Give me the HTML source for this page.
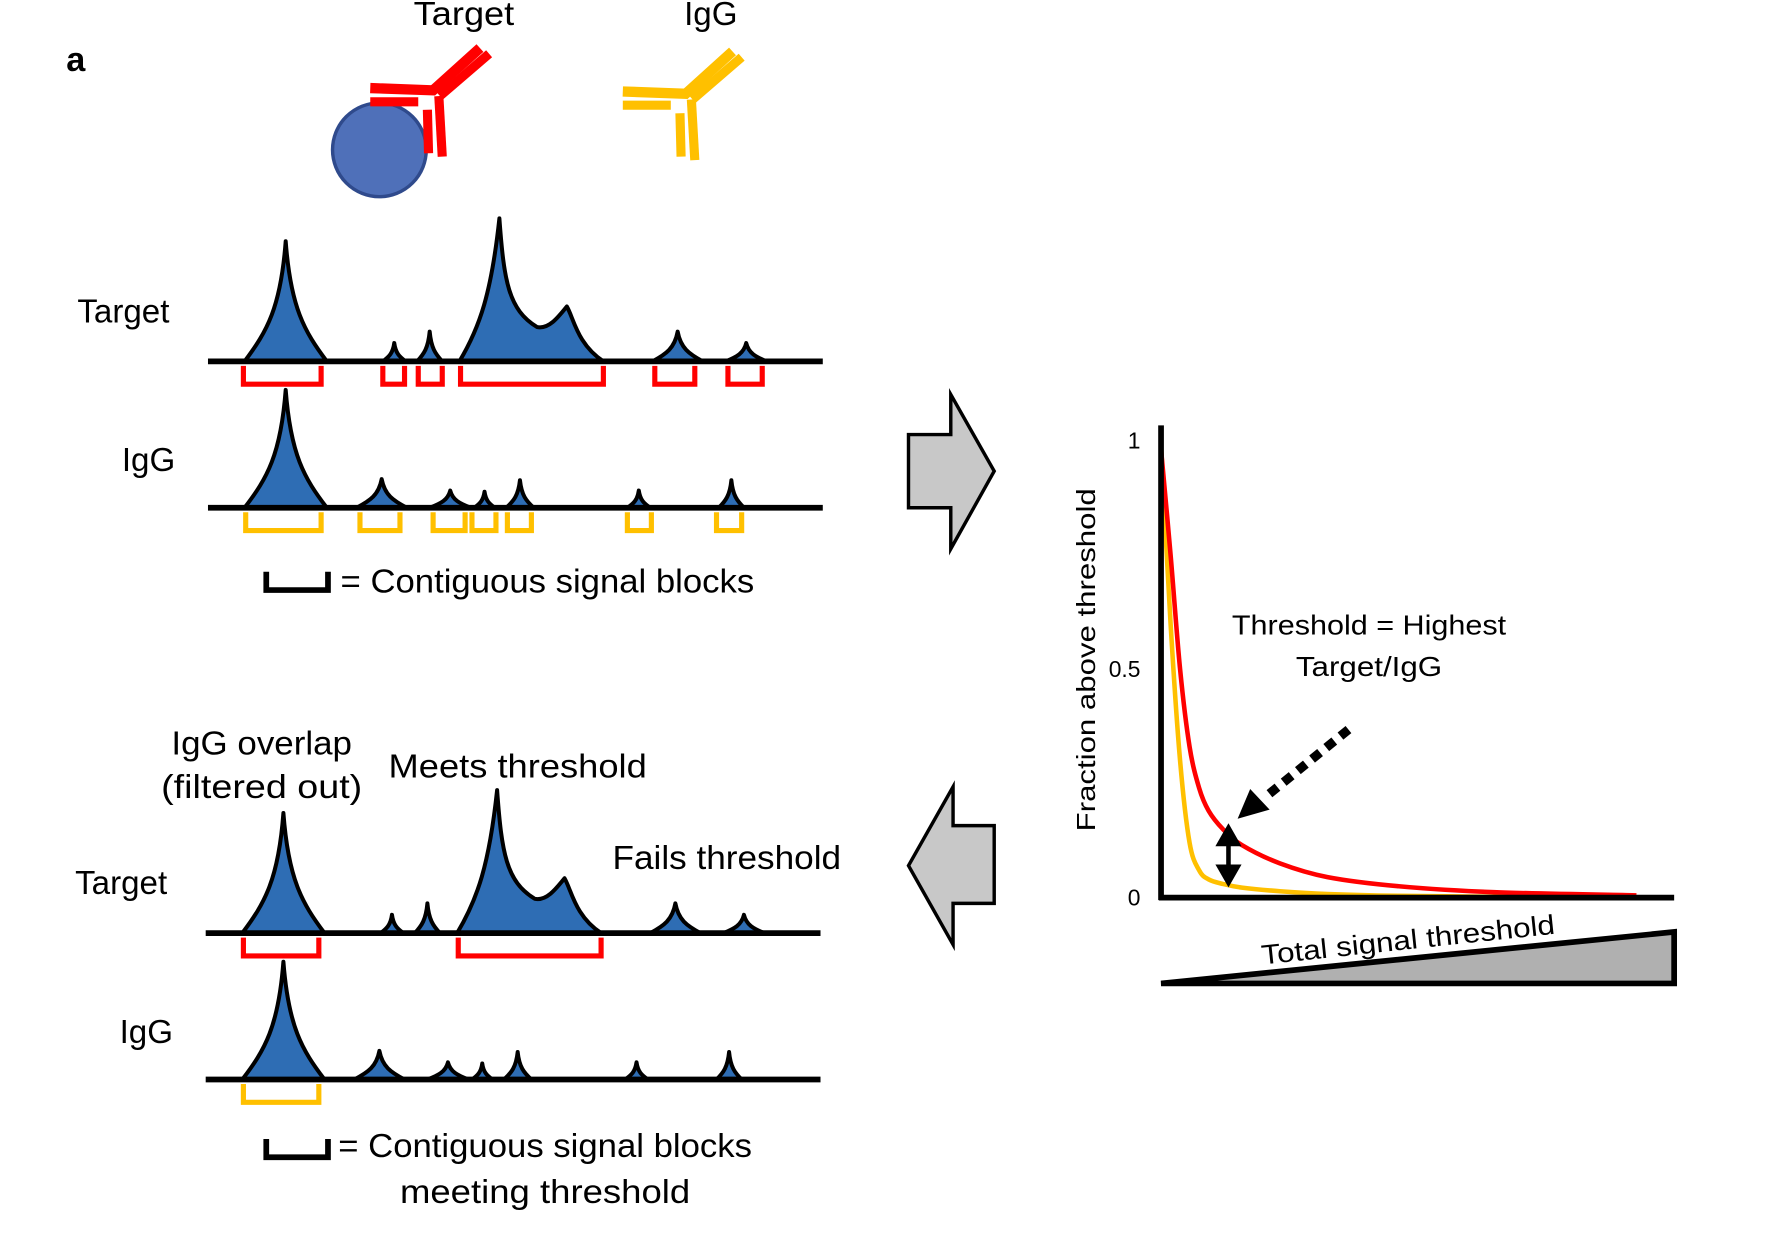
<!DOCTYPE html>
<html><head><meta charset="utf-8"><style>
html,body{margin:0;padding:0;background:#fff;}
svg{display:block;}
text{font-family:"Liberation Sans",sans-serif;fill:#000;}
</style></head><body>
<svg id="fig" width="1777" height="1235" viewBox="0 0 1555 1080" preserveAspectRatio="none" xmlns="http://www.w3.org/2000/svg">
<text x="58" y="62" font-size="30" font-weight="bold">a</text>
<text x="406" y="22" font-size="29" text-anchor="middle" textLength="88" lengthAdjust="spacingAndGlyphs">Target</text>
<text x="622" y="22" font-size="29" text-anchor="middle">IgG</text>
<circle cx="332" cy="131" r="41" fill="#4f70b9" stroke="#2f4a8c" stroke-width="3"/>
<g id="ab-red" stroke="#ff0000" fill="none">
<polyline points="324,77 379,79 420,42" stroke-width="9"/>
<line x1="385" y1="84" x2="428" y2="47" stroke-width="8"/>
<line x1="384" y1="84" x2="387" y2="137" stroke-width="8"/>
<line x1="374" y1="96" x2="375" y2="134" stroke-width="8"/>
<line x1="324" y1="89" x2="366" y2="89" stroke-width="8"/>
</g>
<g stroke="#ffc000" fill="none" transform="translate(221,3)">
<polyline points="324,77 379,79 420,42" stroke-width="9"/>
<line x1="385" y1="84" x2="428" y2="47" stroke-width="8"/>
<line x1="384" y1="84" x2="387" y2="137" stroke-width="8"/>
<line x1="374" y1="96" x2="375" y2="134" stroke-width="8"/>
<line x1="324" y1="89" x2="366" y2="89" stroke-width="8"/>
</g>
<g id="tracks"></g>
<text x="108" y="282" font-size="29" text-anchor="middle">Target</text>
<text x="130" y="412" font-size="29" text-anchor="middle">IgG</text>
<text x="106" y="782" font-size="29" text-anchor="middle">Target</text>
<text x="128" y="912" font-size="29" text-anchor="middle">IgG</text>
<path d="M233,500 V516 H287 V500" fill="none" stroke="#000" stroke-width="5"/>
<text x="298" y="518" font-size="29" textLength="362" lengthAdjust="spacingAndGlyphs">= Contiguous signal blocks</text>
<path d="M233,996 V1012 H287 V996" fill="none" stroke="#000" stroke-width="5"/>
<text x="296" y="1012" font-size="29" textLength="362" lengthAdjust="spacingAndGlyphs">= Contiguous signal blocks</text>
<text x="477" y="1052" font-size="29" text-anchor="middle" textLength="254" lengthAdjust="spacingAndGlyphs">meeting threshold</text>
<text x="229" y="660" font-size="29" text-anchor="middle" textLength="158" lengthAdjust="spacingAndGlyphs">IgG overlap</text>
<text x="229" y="698" font-size="29" text-anchor="middle" textLength="176" lengthAdjust="spacingAndGlyphs">(filtered out)</text>
<text x="453" y="680" font-size="29" text-anchor="middle" textLength="226" lengthAdjust="spacingAndGlyphs">Meets threshold</text>
<text x="636" y="760" font-size="29" text-anchor="middle" textLength="200" lengthAdjust="spacingAndGlyphs">Fails threshold</text>
<polygon points="795,380 832,380 832,345 870,412 832,480 832,444 795,444" fill="#c8c8c8" stroke="#000" stroke-width="3"/>
<polygon points="870,722 834,722 834,688 795,757 834,826 834,790 870,790" fill="#c8c8c8" stroke="#000" stroke-width="3"/>
<g id="chart"></g>
</svg>
<script>
// chart data
var thresholdX = [0, 2, 4, 6, 8, 10, 13, 17, 25, 35, 50, 70, 100];
var targetFrac = [0.98, 0.75, 0.5, 0.33, 0.24, 0.19, 0.15, 0.115, 0.075, 0.045, 0.025, 0.012, 0.005];
var iggFrac    = [0.99, 0.6, 0.3, 0.12, 0.06, 0.04, 0.03, 0.022, 0.014, 0.008, 0.004, 0.002, 0.001];
var yTicks = [0, 0.5, 1];
var yTickLabels = ["0", "0.5", "1"];

var NS = "http://www.w3.org/2000/svg";
function mk(tag, attrs, parent){var e=document.createElementNS(NS,tag);for(var k in attrs)e.setAttribute(k,attrs[k]);parent.appendChild(e);return e;}
var X0=1016, X1=1432, Y0=785, Y1=385;
function xs(v){return X0+(v/100)*(X1-X0);}
function ys(v){return Y0-v*(Y0-Y1);}
var chart=document.getElementById('chart');

function smooth(xa,ya){
  var p=xa.map(function(x,i){return [xs(x),ys(ya[i])];});
  var d="M"+p[0][0]+","+p[0][1];
  for(var i=0;i<p.length-1;i++){
    var p0=p[Math.max(i-1,0)],p1=p[i],p2=p[i+1],p3=p[Math.min(i+2,p.length-1)];
    var c1x=p1[0]+(p2[0]-p0[0])/6,c1y=p1[1]+(p2[1]-p0[1])/6;
    var c2x=p2[0]-(p3[0]-p1[0])/6,c2y=p2[1]-(p3[1]-p1[1])/6;
    d+=" C"+c1x+","+c1y+" "+c2x+","+c2y+" "+p2[0]+","+p2[1];
  }
  return d;
}
var iggLine=mk('path',{d:smooth(thresholdX,iggFrac),fill:'none',stroke:'#ffc000','stroke-width':4},chart);


var tLine=mk('path',{d:smooth(thresholdX,targetFrac),fill:'none',stroke:'#ff0000','stroke-width':4},chart);



var ya=mk('line',{x1:X0,y1:372,x2:X0,y2:787,stroke:'#000','stroke-width':5},chart);


var xa=mk('line',{x1:X0-2,y1:Y0,x2:1465,y2:Y0,stroke:'#000','stroke-width':5},chart);


yTicks.forEach(function(v,i){
  var t=mk('text',{x:998,y:ys(v)+7,'font-size':20,'text-anchor':'end'},chart);
  t.textContent=yTickLabels[i];
  
  
});
var yt=mk('text',{x:0,y:0,'font-size':23,'text-anchor':'middle',transform:'translate(958,577) rotate(-90)',textLength:300,lengthAdjust:'spacingAndGlyphs'},chart);
yt.textContent='Fraction above threshold';


var a1=mk('text',{x:1198,y:555,'font-size':24,'text-anchor':'middle',textLength:240,lengthAdjust:'spacingAndGlyphs'},chart);
a1.textContent='Threshold = Highest';


var a2=mk('text',{x:1198,y:591,'font-size':24,'text-anchor':'middle',textLength:128,lengthAdjust:'spacingAndGlyphs'},chart);
a2.textContent='Target/IgG';


var da=mk('line',{x1:1180,y1:638,x2:1106,y2:698,stroke:'#000','stroke-width':8,'stroke-dasharray':'9,7'},chart);


var dh=mk('polygon',{points:'1083,716 1094,690 1111,708',fill:'#000'},chart);


var dbl=mk('path',{d:'M1075,732 V762 M1067,738 L1075,724 L1083,738 Z M1067,758 L1075,772 L1083,758 Z',stroke:'#000','stroke-width':4,fill:'#000'},chart);


var wedge=mk('polygon',{points:'1016,860 1465,815 1465,860',fill:'#b0b0b0',stroke:'#000','stroke-width':5,'stroke-linejoin':'miter'},chart);


var wt=mk('text',{x:0,y:0,'font-size':24,'text-anchor':'middle',transform:'translate(1233,830) rotate(-6)',textLength:258,lengthAdjust:'spacingAndGlyphs'},chart);
wt.textContent='Total signal threshold';



// tracks
var tracks=document.getElementById('tracks');
var targetPeaks=[[250,105,36],[345,16,10],[376,26,11],[653,16,18],[593,26,22]];
var iggPeaks=[[250,103,36],[334,25,22],[394,15,18],[424,14,9],[455,24,12],[559,15,10],[640,24,11]];
var targetBlocks=[[213,281],[335,354],[366,387],[403,528],[573,608],[637,667]];
var iggBlocks=[[215,281],[315,350],[379,407],[413,434],[444,465],[549,570],[627,649]];
function peakPath(c,h,w,b){
  return "M"+(c-w)+","+b+" C"+(c-w*0.45)+","+(b-h*0.25)+" "+(c-w*0.12)+","+(b-h*0.45)+" "+c+","+(b-h)+
  " C"+(c+w*0.12)+","+(b-h*0.45)+" "+(c+w*0.45)+","+(b-h*0.25)+" "+(c+w)+","+b+" Z";
}
function drawTrack(peaks,b,dx,name,composite){
  var g=mk('g',{transform:'translate('+dx+',0)'},tracks);
  
  
  peaks.forEach(function(p){
    var e=mk('path',{d:peakPath(p[0],p[1],p[2],b),fill:'#2e6db4',stroke:'#000','stroke-width':3.5,'stroke-linejoin':'round'},g);
    
    
  });
  if(composite){
    var d="M402,"+b+" C420,"+(b-30)+" 430,"+(b-60)+" 437,"+(b-125)+" C441,"+(b-70)+" 445,"+(b-45)+" 470,"+(b-30)+
      " C480,"+(b-28)+" 488,"+(b-38)+" 496,"+(b-48)+" C502,"+(b-38)+" 505,"+(b-15)+" 528,"+b+" Z";
    var e=mk('path',{d:d,fill:'#2e6db4',stroke:'#000','stroke-width':3.5,'stroke-linejoin':'round'},g);
    
    
  }
  var l=mk('line',{x1:182,y1:b,x2:720,y2:b,stroke:'#000','stroke-width':5},g);
  
  
}
function drawBlocks(blocks,b,dx,color,name){
  blocks.forEach(function(k){
    var e=mk('path',{d:'M'+(k[0]+dx)+','+(b+4)+' V'+(b+20)+' H'+(k[1]+dx)+' V'+(b+4),fill:'none',stroke:color,'stroke-width':4.5},tracks);
    
    
  });
}
drawTrack(targetPeaks,316,0,'target-track-top',true);
drawBlocks(targetBlocks,316,0,'#ff0000','target-block');
drawTrack(iggPeaks,444,0,'igg-track-top',false);
drawBlocks(iggBlocks,444,0,'#ffc000','igg-block');
drawTrack(targetPeaks,816,-2,'target-track-bottom',true);
drawBlocks([[213,279],[401,526]],816,0,'#ff0000','target-block-passing');
drawTrack(iggPeaks,944,-2,'igg-track-bottom',false);
drawBlocks([[213,279]],944,0,'#ffc000','igg-block-overlap');
</script>
</body></html>
